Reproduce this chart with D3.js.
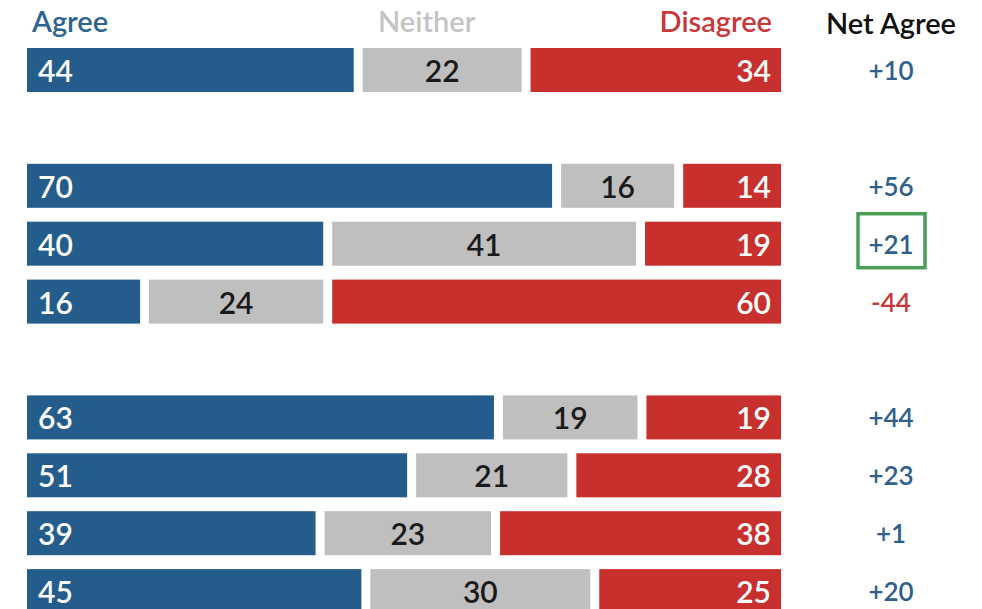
<!DOCTYPE html>
<html>
<head>
<meta charset="utf-8">
<script src="https://cdn.jsdelivr.net/npm/d3@7/dist/d3.min.js"></script>
<style>
  html, body { margin: 0; padding: 0; background: #ffffff; }
  svg { display: block; font-family: Lato, "Open Sans", sans-serif; }
</style>
</head>
<body>
<svg id="chart" width="982" height="609"></svg>
<script>
// ---- data ----
const seriesNames = ["Agree", "Neither", "Disagree"];
const categories = ["r1", "r2", "r3", "r4", "r5", "r6", "r7", "r8"];
const rowSlots = ["r1", "gap1", "r2", "r3", "r4", "gap2", "r5", "r6", "r7", "r8"];
const agree    = [44, 70, 40, 16, 63, 51, 39, 45];
const neither  = [22, 16, 41, 24, 19, 21, 23, 30];
const disagree = [34, 14, 19, 60, 19, 28, 38, 25];
const netAgree = [10, 56, 21, -44, 44, 23, 1, 20];
const highlighted = ["r3"];

// ---- styles ----
const colors = { Agree: "#245c8b", Neither: "#bfbfbf", Disagree: "#c8302d" };
const headerColors = { Agree: "#2d6490", Neither: "#c4c4c4", Disagree: "#c8373a" };
const labelColors = { Agree: "#ffffff", Neither: "#1a1a1a", Disagree: "#ffffff" };
const netPos = "#2f5f8c", netNeg = "#c8373a";

const svg = d3.select("#chart");
const gap = 9;
const xRange = [27, 790];
const y = d3.scaleBand().domain(rowSlots).range([48, 613.1]).paddingInner(0.24).paddingOuter(0).align(0);
const netX = 891;
const fs = 30;
const hfs = 29;
const fw = 600;

const rows = categories.map((c, i) => {
  const vals = [agree[i], neither[i], disagree[i]];
  const total = d3.sum(vals);
  const x = d3.scaleLinear().domain([0, total]).range(xRange);
  let cum = 0;
  const segs = vals.map((v, j) => {
    const s = { key: seriesNames[j], value: v, px0: x(cum), px1: x(cum + v), cat: c };
    cum += v;
    return s;
  });
  return { cat: c, segs, net: netAgree[i] };
});

// headers
svg.append("text").attr("x", 32).attr("y", 32).attr("font-size", hfs).attr("font-weight", fw)
  .attr("fill", headerColors.Agree).text("Agree");
svg.append("text").attr("x", 378).attr("y", 32).attr("font-size", hfs).attr("font-weight", fw)
  .attr("fill", headerColors.Neither).text("Neither");
svg.append("text").attr("x", 772).attr("y", 32).attr("font-size", hfs).attr("font-weight", fw).attr("text-anchor", "end")
  .attr("fill", headerColors.Disagree).text("Disagree");
svg.append("text").attr("x", netX).attr("y", 34).attr("font-size", hfs).attr("font-weight", fw).attr("text-anchor", "middle")
  .attr("fill", "#111").text("Net Agree");

const rowG = svg.selectAll("g.row").data(rows).join("g").attr("class", "row")
  .attr("transform", d => `translate(0,${y(d.cat)})`);

const bh = y.bandwidth();

rowG.selectAll("rect.seg").data(d => d.segs).join("rect").attr("class", "seg")
  .attr("x", d => d.px0)
  .attr("y", 0)
  .attr("width", d => d.px1 - d.px0 - gap)
  .attr("height", bh)
  .attr("fill", d => colors[d.key]);

rowG.selectAll("text.val").data(d => d.segs).join("text").attr("class", "val")
  .attr("x", d => d.key === "Agree" ? d.px0 + 11
                : d.key === "Neither" ? (d.px0 + d.px1 - gap) / 2
                : d.px1 - gap - 10)
  .attr("y", bh / 2 + 12)
  .attr("font-size", fs)
  .attr("font-weight", fw)
  .attr("text-anchor", d => d.key === "Agree" ? "start" : d.key === "Neither" ? "middle" : "end")
  .attr("fill", d => labelColors[d.key])
  .text(d => d.value);

rowG.append("text").attr("class", "net")
  .attr("x", netX).attr("y", bh / 2 + 10)
  .attr("font-size", 26).attr("font-weight", fw).attr("text-anchor", "middle")
  .attr("fill", d => d.net >= 0 ? netPos : netNeg)
  .text(d => (d.net > 0 ? "+" : d.net < 0 ? "-" : "") + Math.abs(d.net));

rowG.filter(d => highlighted.includes(d.cat)).append("rect")
  .attr("x", netX - 33).attr("y", bh / 2 - 30)
  .attr("width", 67).attr("height", 54)
  .attr("fill", "none").attr("stroke", "#4a9e55").attr("stroke-width", 3.5);
</script>
</body>
</html>
